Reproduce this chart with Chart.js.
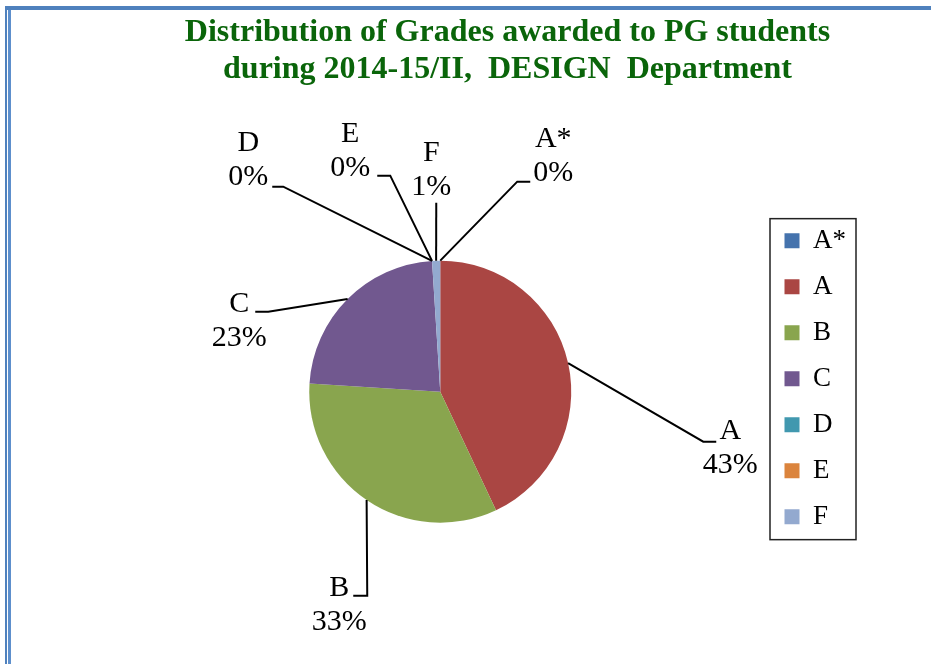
<!DOCTYPE html>
<html>
<head>
<meta charset="utf-8">
<title>PG Grades 2014-15/II - DESIGN</title>
<script src="https://cdn.jsdelivr.net/npm/chart.js@4.4.0/dist/chart.umd.min.js"></script>
<style>
    html, body { margin: 0; padding: 0; background: #ffffff; }
    #wrap { position: relative; width: 931px; height: 664px; overflow: hidden; }
    #gradeChart { position: absolute; left: 0; top: 0; }
    .frame { position: absolute; background: #4f81bd; }
    .frame.top { left: 5px; top: 6px; right: 0; height: 4px; }
    .frame.left { left: 5px; top: 6px; bottom: 0; width: 2px; }
    .frame.inner { left: 8px; top: 10px; bottom: 0; width: 3px; background: #5d8fcc; }
</style>
</head>
<body>
<div id="wrap">
    <canvas id="gradeChart" width="931" height="664"></canvas>
    <div class="frame top"></div>
    <div class="frame left"></div>
    <div class="frame inner"></div>
</div>
<script>
const grades = ['A*', 'A', 'B', 'C', 'D', 'E', 'F'];
const gradeShares = [0, 43, 33, 23, 0, 0, 1];
const gradeColors = ['#4573ad', '#aa4643', '#89a54e', '#71588f', '#4198af', '#db843d', '#93a9cf'];
const titleLines = ['Distribution of Grades awarded to PG students', 'during 2014-15/II,  DESIGN  Department'];

// outside labels: elbow of the leader, end of its short tail, and text centre,
// all measured from the pie centre
const labelSpots = {
    'A*': { elbow: [77, -210], tail: [90, -210], text: [113, -253] },
    'A':  { elbow: [263, 50], tail: [276, 50], text: [290, 39] },
    'B':  { elbow: [-73, 204], tail: [-87, 204], text: [-101, 196] },
    'C':  { elbow: [-172, -80], tail: [-185, -80], text: [-201, -88] },
    'D':  { elbow: [-157, -205], tail: [-168, -205], text: [-192, -249] },
    'E':  { elbow: [-50, -216], tail: [-63, -216], text: [-90, -258] },
    'F':  { elbow: [-4, -189], tail: [-4, -189], text: [-9, -239] }
};
const LINE_GAP = 34;
const serif = '"Liberation Serif", "Times New Roman", serif';

Chart.defaults.font.family = serif;
Chart.defaults.color = '#000000';

// nudges the title and legend off the default centring
const layoutTweaks = {
    id: 'layoutTweaks',
    afterLayout(chart) {
        const title = chart.titleBlock;
        if (title) {
            title.left += 22;
            title.right += 22;
        }
        const legend = chart.legend;
        if (legend) {
            legend.top -= 13;
            legend.bottom -= 13;
        }
    }
};

const leaderLabels = {
    id: 'leaderLabels',
    afterDatasetsDraw(chart) {
        const ctx = chart.ctx;
        const meta = chart.getDatasetMeta(0);
        const values = chart.data.datasets[0].data;
        const total = values.reduce((a, b) => a + b, 0);

        ctx.save();
        ctx.strokeStyle = '#000000';
        ctx.lineWidth = 2;
        ctx.fillStyle = '#000000';
        ctx.font = '30px ' + serif;
        ctx.textAlign = 'center';
        ctx.textBaseline = 'middle';

        meta.data.forEach((arc, i) => {
            const name = chart.data.labels[i];
            const spot = labelSpots[name];
            if (!spot) return;
            const p = arc.getProps(['x', 'y', 'startAngle', 'endAngle', 'outerRadius'], true);
            const mid = (p.startAngle + p.endAngle) / 2;
            const sx = p.x + Math.cos(mid) * p.outerRadius;
            const sy = p.y + Math.sin(mid) * p.outerRadius;

            ctx.beginPath();
            ctx.moveTo(sx, sy);
            ctx.lineTo(p.x + spot.elbow[0], p.y + spot.elbow[1]);
            ctx.lineTo(p.x + spot.tail[0], p.y + spot.tail[1]);
            ctx.stroke();

            const pct = Math.round(values[i] / total * 100) + '%';
            const tx = p.x + spot.text[0];
            const ty = p.y + spot.text[1];
            ctx.fillText(name, tx, ty);
            ctx.fillText(pct, tx, ty + LINE_GAP);
        });
        ctx.restore();
    }
};

// thin border round the legend entries
const legendFrame = {
    id: 'legendFrame',
    afterDraw(chart) {
        const boxes = chart.legend && chart.legend.legendHitBoxes;
        if (!boxes || !boxes.length) return;
        const first = boxes[0];
        const last = boxes[boxes.length - 1];
        const left = first.left - 15;
        const top = first.top - 9;
        const bottom = last.top + last.height + 9;
        const ctx = chart.ctx;
        ctx.save();
        ctx.strokeStyle = '#222222';
        ctx.lineWidth = 1.5;
        ctx.strokeRect(left + 0.5, top + 0.5, 86, bottom - top);
        ctx.restore();
    }
};

const gradeChart = new Chart(document.getElementById('gradeChart'), {
    type: 'pie',
    data: {
        labels: grades,
        datasets: [{
            data: gradeShares,
            backgroundColor: gradeColors,
            borderWidth: 0,
            radius: 131
        }]
    },
    options: {
        responsive: false,
        animation: false,
        events: [],
        layout: {
            padding: { top: 0, bottom: 2, left: 115, right: 75 }
        },
        plugins: {
            title: {
                display: true,
                text: titleLines,
                color: '#0a650a',
                font: { size: 32, weight: 'bold', family: serif, lineHeight: 1.13 },
                padding: { top: 15, bottom: 34 }
            },
            legend: {
                display: true,
                position: 'right',
                fullSize: false,
                align: 'center',
                labels: {
                    boxWidth: 15,
                    boxHeight: 15,
                    padding: 19,
                    color: '#000000',
                    font: { size: 27, family: serif }
                }
            },
            tooltip: { enabled: false }
        }
    },
    plugins: [layoutTweaks, leaderLabels, legendFrame]
});
</script>
</body>
</html>
